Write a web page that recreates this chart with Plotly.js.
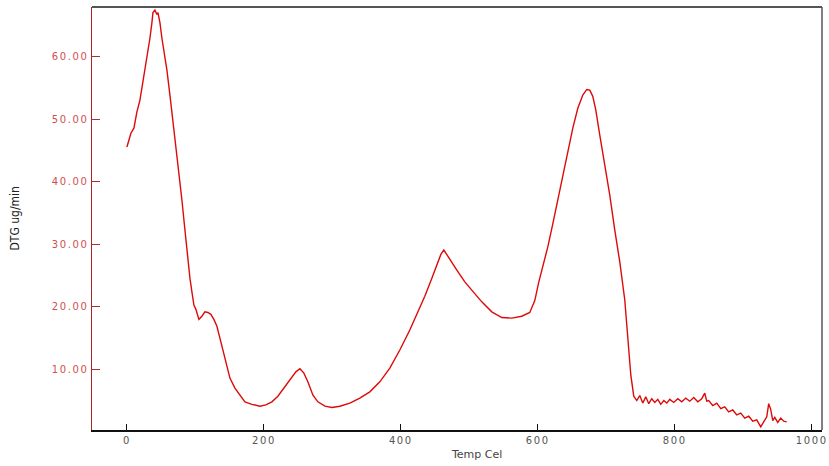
<!DOCTYPE html>
<html>
<head>
<meta charset="utf-8">
<script src="https://cdn.plot.ly/plotly-3.0.1.min.js"></script>
<style>
body{margin:0;padding:0;background:#fff;}
#chart{width:829px;height:466px;}
.xtick text, .ytick text {letter-spacing:1.6px;}
</style>
</head>
<body>
<div id="chart"></div>
<script>
var tempCel = [0,5.8,10.2,14.6,19,23.4,27.7,30.7,33.6,36.5,38,40.9,43.8,45.3,48.2,51.1,54,58.4,62.8,65.7,70.1,73,77.4,80.3,84.7,89.1,92,94.9,97.8,100.7,105.1,109.5,113.9,118.2,122.6,127,131.4,135.8,140.1,143.1,147.4,150.4,157.7,165,172.3,182.5,194.2,202.9,211.7,220.4,229.2,238,246.7,252.6,258.4,264.2,271.5,278.8,289.1,299.3,311,325.5,340.1,354.7,369.3,383.9,398.5,413.1,424.8,435,445.3,452.6,458.4,462.8,467.2,473,481.8,493.4,505.1,518.2,532.8,547.4,562,576.6,588.3,595.6,601.5,607.3,614.6,621.9,629.2,636.5,643.8,651.1,658.4,665.7,671.5,675.9,680.3,684.7,690.5,697.8,705.1,712.4,719.7,727,731.4,735.8,740.1,744.5,748.9,753.3,757.7,762.0,766.4,770.8,775.2,779.6,784.0,788.3,792.7,798.5,804.4,810.2,816.1,821.9,827.7,833.6,839.4,843.8,846.7,849.6,855.5,861.3,867.2,873.0,878.8,884.7,890.5,896.4,902.2,908.0,913.9,919.7,925.5,929.9,934.3,937.2,940.1,943.1,946.0,950.4,954.7,959.1,963.5,969.3];
var dtg = [45.6,47.8,48.6,51.2,53.1,56,58.7,60.8,63,65.5,67.1,67.5,66.8,67.1,65.5,63,61.1,57.9,53.9,51.2,46.7,44.3,40.3,37.1,32.3,27.5,24.6,22.4,20.3,19.6,18.0,18.5,19.2,19.1,18.8,18.0,16.9,15.0,13.0,11.5,9.5,8.6,7.0,5.9,4.8,4.4,4.1,4.3,4.8,5.7,7,8.3,9.6,10.1,9.4,8,5.9,4.8,4.1,3.9,4.1,4.6,5.4,6.4,8,10.2,13.1,16.3,19.2,21.7,24.6,26.8,28.4,29.1,28.4,27.5,25.9,24,22.4,20.8,19.2,18.3,18.2,18.5,19.1,21.0,24.0,26.5,29.6,33.3,37.2,41.1,45.1,48.6,51.8,53.9,54.8,54.7,53.7,51.5,47.5,42.7,37.9,32.3,27.2,21.1,14.7,9.1,5.7,5.0,5.8,4.6,5.6,4.5,5.3,4.7,5.2,4.4,5.0,4.6,5.2,4.7,5.3,4.8,5.4,4.9,5.5,4.8,5.3,6.2,4.9,5.0,4.2,4.6,3.7,4.0,3.2,3.5,2.7,3.0,2.2,2.5,1.7,1.9,0.8,1.6,2.4,4.5,3.6,1.8,2.3,1.5,2.2,1.7,1.6];
var xTicks = [0,200,400,600,800,1000];
var yTicks = [10,20,30,40,50,60];

var trace = {
  x: tempCel, y: dtg, type: 'scatter', mode: 'lines',
  line: {color: '#dd0a0a', width: 1.4},
  hoverinfo: 'skip'
};

var layout = {
  width: 829, height: 466,
  margin: {l: 92, r: 7, t: 7, b: 36},
  paper_bgcolor: '#ffffff', plot_bgcolor: '#ffffff',
  showlegend: false,
  xaxis: {
    range: [-51, 1015], tickvals: xTicks, ticktext: xTicks.map(String),
    ticks: 'inside', ticklen: 6, tickcolor: '#111', tickwidth: 1,
    showline: true, linecolor: '#111', linewidth: 2,
    showgrid: false, zeroline: false,
    tickfont: {family: 'DejaVu Sans, Verdana, sans-serif', size: 10, color: '#555'}
  },
  yaxis: {
    range: [0.29, 68.0], tickvals: yTicks, ticktext: yTicks.map(function(v){return v.toFixed(2);}),
    ticks: 'inside', ticklen: 8, tickcolor: '#b03030', tickwidth: 1,
    showline: true, linecolor: '#b02525', linewidth: 1.5,
    showgrid: false, zeroline: false,
    tickfont: {family: 'DejaVu Sans, Verdana, sans-serif', size: 10, color: '#cf5050'}
  },
  shapes: [
    {type: 'line', xref: 'paper', yref: 'paper', x0: 0, x1: 1, y0: 1, y1: 1, line: {color: '#555', width: 2}},
    {type: 'line', xref: 'paper', yref: 'paper', x0: 1, x1: 1, y0: 0, y1: 1, line: {color: '#555', width: 1.5}}
  ],
  annotations: [
    {text: 'DTG ug/min', xref: 'paper', yref: 'paper', x: -0.1055, y: 0.5, textangle: -90,
     showarrow: false, xanchor: 'center', yanchor: 'middle',
     font: {family: 'Liberation Sans Narrow, Arial Narrow, DejaVu Sans Condensed, sans-serif', size: 12, color: '#222'}},
    {text: 'Temp Cel', xref: 'paper', yref: 'paper', x: 0.527, y: -0.059,
     showarrow: false, xanchor: 'center', yanchor: 'middle',
     font: {family: 'DejaVu Sans, Verdana, sans-serif', size: 11, color: '#444'}}
  ]
};

Plotly.newPlot('chart', [trace], layout, {displayModeBar: false, staticPlot: true});
</script>
</body>
</html>
